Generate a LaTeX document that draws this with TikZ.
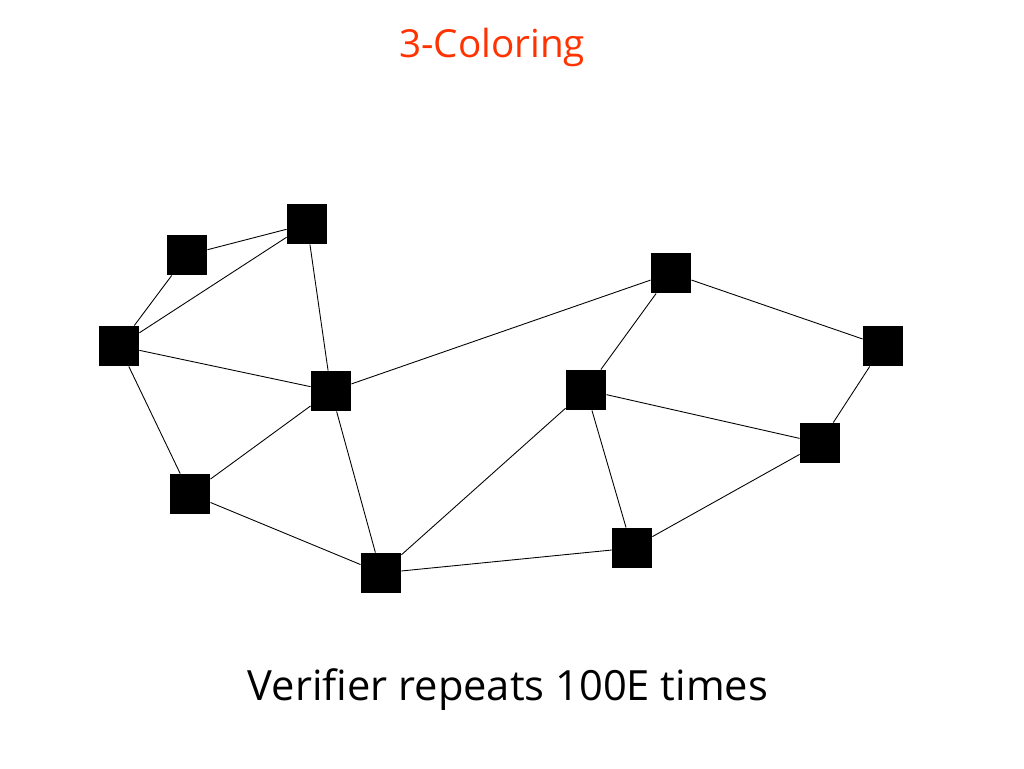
\documentclass[tikz,border=0pt]{standalone}
\usepackage{fontspec}
\setmainfont{Open Sans}
\usepackage{tikz}
\usepackage{xcolor}
\definecolor{titlered}{RGB}{255,51,0}

\begin{document}
\begin{tikzpicture}[x=0.02cm,y=-0.02cm,
  vertex/.style={fill=black,minimum size=0.8cm,inner sep=0pt},
  every path/.style={line width=0.5pt}]
\useasboundingbox (0,0) rectangle (1024,768);
\node[text=titlered,font=\fontsize{22}{26}\selectfont] (title) at (492,47) {3-Coloring};
\node (a) [vertex] at (187,255) {};
\node (b) [vertex] at (307,224) {};
\node (c) [vertex] at (119,346) {};
\node (d) [vertex] at (331,391) {};
\node (e) [vertex] at (190,494) {};
\node (f) [vertex] at (381,573) {};
\node (g) [vertex] at (671,273) {};
\node (h) [vertex] at (586,390) {};
\node (i) [vertex] at (883,346) {};
\node (j) [vertex] at (820,443) {};
\node (k) [vertex] at (632,548) {};
\draw (a) -- (b);
\draw (a) -- (c);
\draw (b) -- (c);
\draw (b) -- (d);
\draw (c) -- (d);
\draw (c) -- (e);
\draw (d) -- (e);
\draw (d) -- (f);
\draw (e) -- (f);
\draw (d) -- (g);
\draw (g) -- (h);
\draw (g) -- (i);
\draw (h) -- (j);
\draw (i) -- (j);
\draw (h) -- (f);
\draw (h) -- (k);
\draw (f) -- (k);
\draw (k) -- (j);
\node[font=\fontsize{23.7}{28}\selectfont] (caption) at (508,690) {Verifier repeats 100E times};
\end{tikzpicture}
\end{document}
